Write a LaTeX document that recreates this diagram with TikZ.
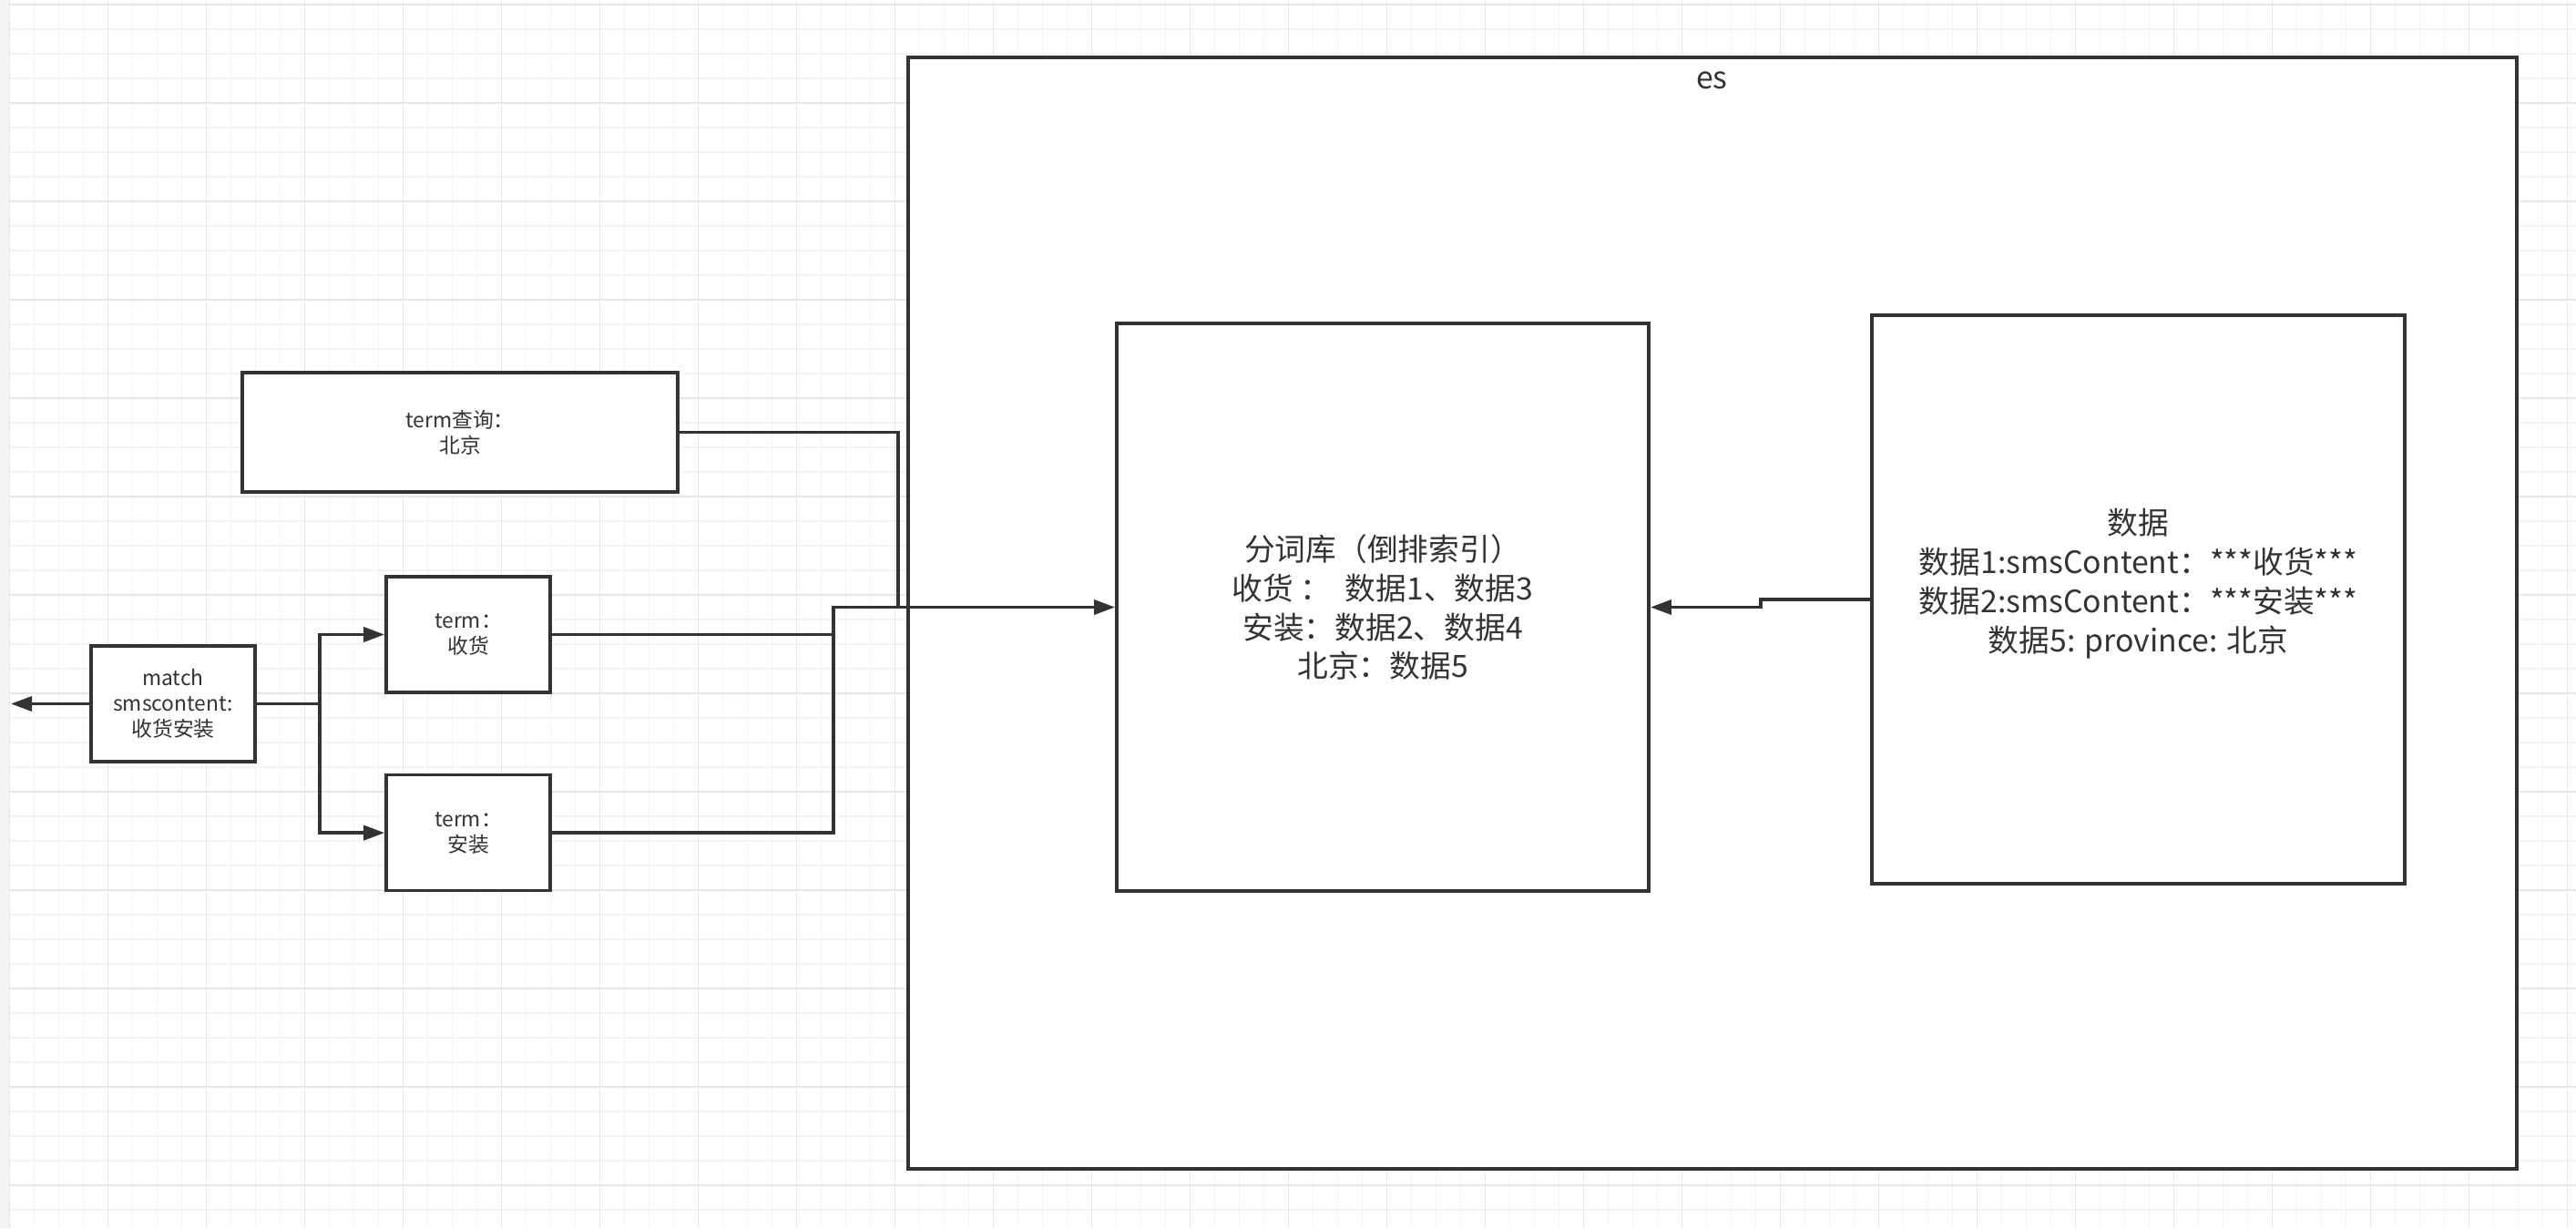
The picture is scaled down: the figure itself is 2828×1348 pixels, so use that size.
\documentclass[tikz,border=0pt]{standalone}
\usepackage{fontspec}
\setmainfont{Noto Sans CJK SC}
\usetikzlibrary{arrows.meta,positioning}
\definecolor{ink}{HTML}{333333}
\definecolor{gridfine}{HTML}{F3F3F3}
\definecolor{gridmajor}{HTML}{E6E6E6}

\begin{document}
\begin{tikzpicture}[
  x=0.01cm, y=-0.01cm,
  >={Triangle[length=0.23cm,width=0.16cm]},
  box/.style={draw=ink, line width=0.035cm, fill=white, align=center, text=ink, inner sep=0pt},
  small/.style={font=\fontsize{6.5}{8}\selectfont},
  big/.style={font=\fontsize{9.6}{12.2}\selectfont},
  conn/.style={draw=ink, line width=0.035cm}]
  \useasboundingbox (0,0) rectangle (2828,1348);
  % grid paper
  \fill[white] (0,0) rectangle (2828,1348);
  \fill[gridfine] (0,0) rectangle (10,1348);
  \foreach \i in {0,...,104}
    \draw[gridfine, line width=0.015cm] (10.6+27*\i,0) -- (10.6+27*\i,1348);
  \foreach \i in {0,...,49}
    \draw[gridfine, line width=0.015cm] (10,5+27*\i) -- (2828,5+27*\i);
  \foreach \i in {0,...,26}
    \draw[gridmajor, line width=0.015cm] (10.6+108*\i,0) -- (10.6+108*\i,1348);
  \foreach \i in {0,...,12}
    \draw[gridmajor, line width=0.015cm] (10,5+108*\i) -- (2828,5+108*\i);

  % es container
  \node[box, line width=0.04cm, minimum width=17.65cm, minimum height=12.2cm] (es) at (1879.5,673) {};
  \node[big, text=ink, anchor=base] (eslab) at (1879.5,97) {es};

  % left side
  \node[box, small, minimum width=4.78cm, minimum height=1.31cm] (qry) at (505,474.5) {term查询：\\北京};
  \node[box, small, minimum width=1.8cm, minimum height=1.27cm] (shouhuo) at (514,696.5) {term：\\收货};
  \node[box, small, minimum width=1.8cm, minimum height=1.27cm, below=0.87cm of shouhuo] (anzhuang) {term：\\安装};
  \node[box, small, minimum width=1.8cm, minimum height=1.27cm] (match) at (190,772.5) {match\\smscontent:\\收货安装};

  \coordinate (out) at (12,772.5);
  \coordinate (fork) at (351,772.5);
  \coordinate (merge) at (915,666.5);
  \coordinate (drop) at (986,666.5);
  \coordinate (jog) at (1933,658);

  % inside es
  \node[box, big, minimum width=5.84cm, minimum height=6.23cm] (idx) at (1518,666.5)
    {分词库（倒排索引）\\收货 ：\ \ 数据1、数据3\\安装：数据2、数据4\\北京：数据5};
  \node[box, big, minimum width=5.85cm, minimum height=6.24cm] (data) at (2347.5,658)
    {数据\\数据1:smsContent：***收货***\\数据2:smsContent：***安装***\\数据5: province: 北京\\\mbox{}};

  \draw[conn,->] (match.west) -- (out);
  \draw[conn] (match.east) -- (fork);
  \draw[conn,->] (fork) |- (shouhuo.west);
  \draw[conn,->] (fork) |- (anzhuang.west);
  \draw[conn] (anzhuang.east) -| (merge);
  \draw[conn] (qry.east) -| (drop);
  \draw[conn,->] (shouhuo.east) -| (merge) -- (idx.west);
  \draw[conn,->] (data.west) -- (jog) |- (idx.east);
\end{tikzpicture}
\end{document}
